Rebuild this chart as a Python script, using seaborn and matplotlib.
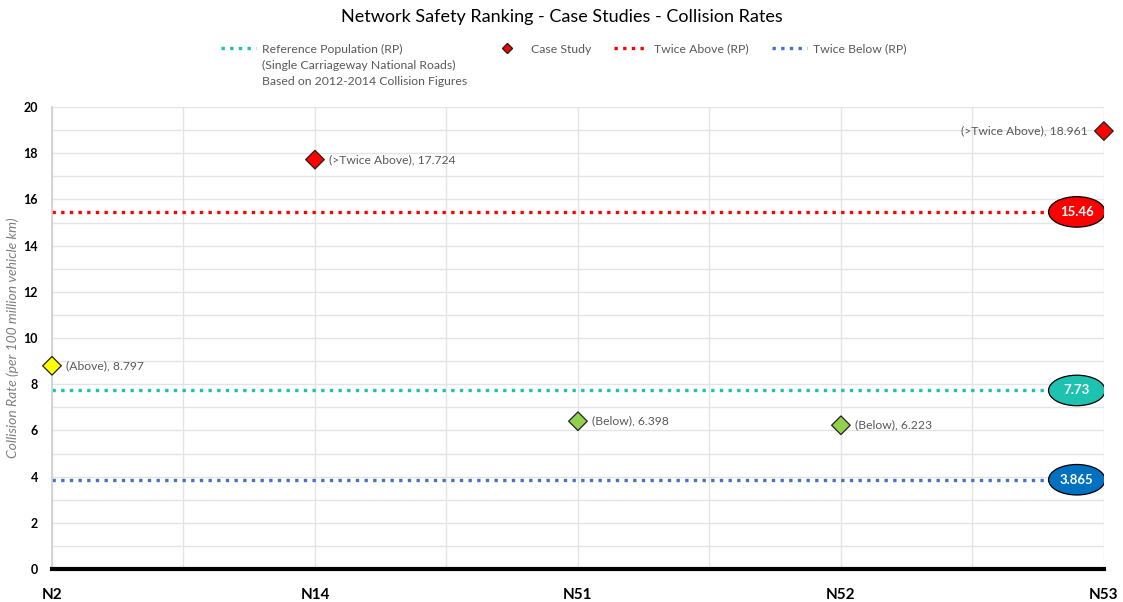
import matplotlib
matplotlib.use("Agg")
import matplotlib.pyplot as plt
import seaborn as sns
from matplotlib.lines import Line2D
from matplotlib.patches import Ellipse
from matplotlib.ticker import MultipleLocator

sns.set_theme(style="white")
plt.rcParams['font.family'] = ['Lato', 'DejaVu Sans']

# data
roads = ['N2', 'N14', 'N51', 'N52', 'N53']
rates = [8.797, 17.724, 6.398, 6.223, 18.961]
status = ['(Above)', '(>Twice Above)', '(Below)', '(Below)', '(>Twice Above)']
point_colors = ['#FFFF00', '#FF0000', '#92D050', '#92D050', '#FF0000']
ref_rate = 7.73
twice_above = 15.46
twice_below = 3.865

teal = '#1DC2B0'
red = '#FF0000'
blue_line = '#4472C4'
blue_fill = '#0070C0'
grey_txt = '#595959'
dots = (0, (1, 1.6))

fig = plt.figure(figsize=(11.23, 6.02), dpi=100)
ax = fig.add_axes([0.0463, 0.0548, 0.9367, 0.7674])

# reference lines
ax.axhline(twice_above, color=red, ls=dots, lw=2.4, zorder=2)
ax.axhline(ref_rate, color=teal, ls=dots, lw=2.4, zorder=2)
ax.axhline(twice_below, color=blue_line, ls=dots, lw=2.4, zorder=2)

sns.scatterplot(x=roads, y=rates, hue=roads, palette=dict(zip(roads, point_colors)),
                marker='D', s=90, edgecolor='#222222', linewidth=0.9,
                legend=False, clip_on=False, zorder=5, ax=ax)

# data labels
for i, (r, s) in enumerate(zip(rates, status)):
    if i == len(rates) - 1:
        ax.annotate(f'{s}, {r}', (i, r), xytext=(-12, 0), textcoords='offset points',
                    ha='right', va='center', fontsize=8.7, color=grey_txt)
    else:
        ax.annotate(f'{s}, {r}', (i, r), xytext=(10, 0), textcoords='offset points',
                    ha='left', va='center', fontsize=8.7, color=grey_txt)

# value ellipses at right end of the reference lines
for val, fc in [(twice_above, red), (ref_rate, teal), (twice_below, blue_fill)]:
    ax.add_patch(Ellipse((3.897, val), 0.215, 1.32, facecolor=fc, edgecolor='black',
                         lw=0.9, zorder=6))
    ax.text(3.897, val, f'{val:g}', ha='center', va='center', color='white',
            fontsize=9.5, fontweight='bold', zorder=7)

ax.set_xlim(0, 4)
ax.set_ylim(0, 20)
ax.yaxis.set_major_locator(MultipleLocator(2))
ax.yaxis.set_minor_locator(MultipleLocator(1))
ax.xaxis.set_minor_locator(MultipleLocator(0.5))
ax.grid(True, which='both', color='#E4E4E4', lw=1)
ax.set_axisbelow(True)

for side in ['top', 'right']:
    ax.spines[side].set_visible(False)
ax.spines['left'].set_color('#D0D0D0')
ax.spines['bottom'].set_color('black')
ax.spines['bottom'].set_linewidth(3)

ax.tick_params(axis='x', which='major', direction='in', length=6, width=1.5,
               color='black', pad=14, labelsize=11)
ax.tick_params(axis='x', which='minor', length=0)
ax.tick_params(axis='y', which='both', length=0, pad=10, labelsize=9)
for lbl in ax.get_xticklabels() + ax.get_yticklabels():
    lbl.set_fontweight('bold')
    lbl.set_color('black')

ax.set_xlabel('')
ax.set_ylabel('Collision Rate (per 100 million vehicle km)', fontsize=10,
              style='italic', color='#7F7F7F', labelpad=3)

fig.suptitle('Network Safety Ranking - Case Studies - Collision Rates',
             y=0.985, fontsize=13, color='black')

handles = [
    Line2D([], [], color=teal, ls=dots, lw=2.4),
    Line2D([], [], color=red, marker='D', ls='', markersize=5,
           markeredgecolor='#222222'),
    Line2D([], [], color=red, ls=dots, lw=2.4),
    Line2D([], [], color=blue_line, ls=dots, lw=2.4),
]
labels = ['Reference Population (RP)\n(Single Carriageway National Roads)\n'
          'Based on 2012-2014 Collision Figures',
          'Case Study', 'Twice Above (RP)', 'Twice Below (RP)']
leg = fig.legend(handles, labels, loc='upper center', bbox_to_anchor=(0.502, 0.946),
                 ncol=4, frameon=False, fontsize=8.8, handlelength=2.8,
                 handletextpad=0.5, columnspacing=1.9, labelcolor=grey_txt)
for t in leg.get_texts():
    t.set_linespacing(1.6)

# align legend handles with the first line of the labels
leg._legend_handle_box.align = 'top'
for col in leg._legend_handle_box.get_children():
    for item in col.get_children():
        item.align = 'top'

fig.savefig('out.png', dpi=100)
